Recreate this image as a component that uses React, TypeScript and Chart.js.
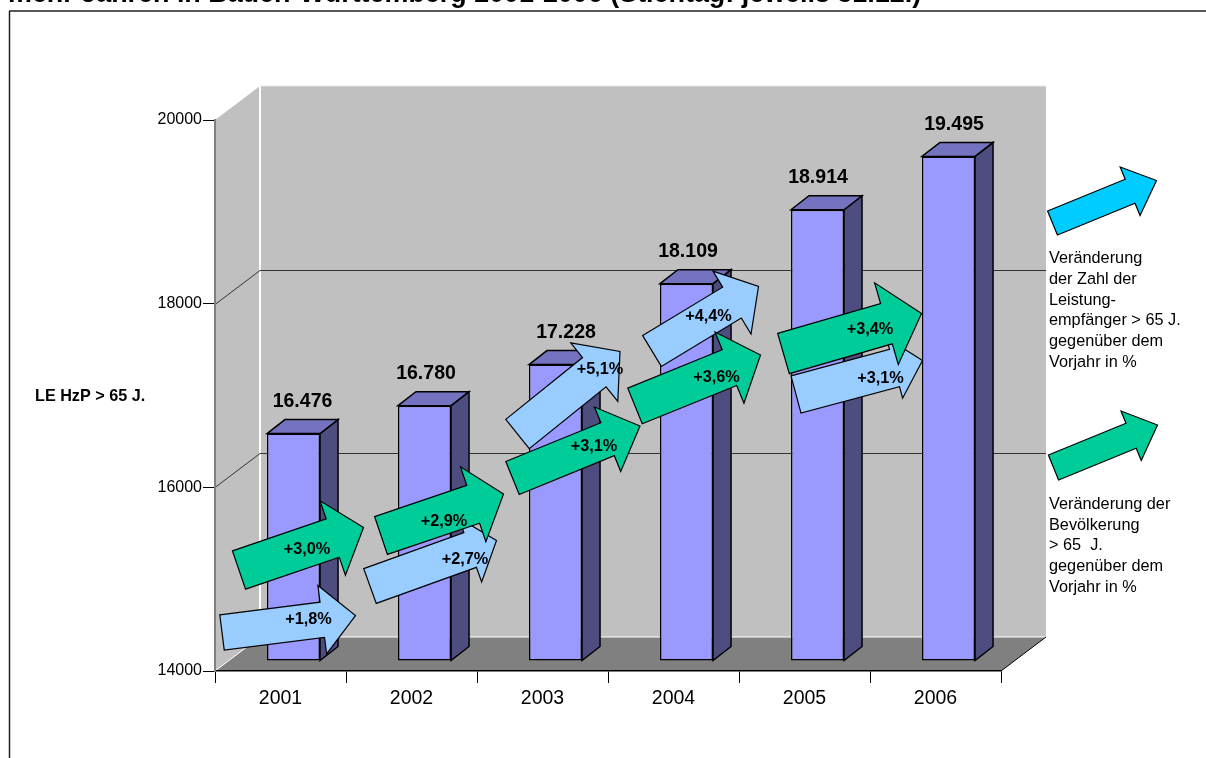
import React, { useEffect, useRef } from "react";
import { Chart, registerables } from "chart.js";

Chart.register(...registerables);

// Recipients of care assistance aged over 65, counted on 31.12. of each year
const years = ["2001", "2002", "2003", "2004", "2005", "2006"];
const recipients = [16476, 16780, 17228, 18109, 18914, 19495];
const yAxisMin = 14000;
const yAxisMax = 20000;
const yAxisStep = 2000;

// Year-on-year changes in percent
const recipientChange = [1.8, 2.7, 5.1, 4.4, 3.1];
const populationChange = [3.0, 2.9, 3.1, 3.6, 3.4];

const titleText = "mehr Jahren in Baden-Württemberg 2001-2006 (Stichtag: jeweils 31.12.)";
const yAxisCaption = "LE HzP > 65 J.";
const recipientLegend = ["Veränderung", "der Zahl der", "Leistung-", "empfänger > 65 J.", "gegenüber dem", "Vorjahr in %"];
const populationLegend = ["Veränderung der", "Bevölkerung", "> 65  J.", "gegenüber dem", "Vorjahr in %"];

const FONT = '"Liberation Sans", Arial, sans-serif';
const WALL = "#C0C0C0";
const FLOOR = "#808080";
const BAR_FRONT = "#9999FF";
const BAR_TOP = "#7373BF";
const BAR_SIDE = "#4D4D80";
const GREEN = "#00CC99";
const LIGHT_BLUE = "#99CCFF";
const CYAN = "#00CCFF";

// Projection of the 3D look: wall depth, bar depth and the bars' inset from the axis plane
const WALL_DX = 45;
const WALL_DY = -34;
const BAR_DX = 18;
const BAR_DY = -14;
const INSET_X = 13;
const INSET_Y = -10;

// Hand-placed horizontal shift of each value label relative to its bar
const valueLabelShift = [9, 1.5, 10.5, 1.5, 0.5, 5.5];

type Arrow = { tail: number[]; tip: number[]; shaft: number; head: number; headLen: number; text: number[] };

// Overlay arrows: tail centre, tip, shaft width, head width, head length, label centre
const recipientArrows: Arrow[] = [
  { tail: [222, 632.5], tip: [355.5, 615.5], shaft: 35.5, head: 69, headLen: 33.5, text: [308.5, 620] },
  { tail: [370, 586], tip: [496.5, 540.5], shaft: 37, head: 68, headLen: 28, text: [465, 560] },
  { tail: [517.5, 434], tip: [620, 351.5], shaft: 37.5, head: 75, headLen: 33, text: [600, 370] },
  { tail: [652, 351], tip: [758.5, 286.5], shaft: 36, head: 73.5, headLen: 31, text: [708.5, 317] },
  { tail: [796, 394.5], tip: [922.5, 360.5], shaft: 38.5, head: 62.5, headLen: 29, text: [880.5, 379] },
];
const populationArrows: Arrow[] = [
  { tail: [239, 570], tip: [363.5, 527.5], shaft: 40.5, head: 78.5, headLen: 32.5, text: [307, 550] },
  { tail: [381, 535.5], tip: [503.5, 494], shaft: 40, head: 79, headLen: 32, text: [444, 521.5] },
  { tail: [512.5, 478], tip: [640, 426], shaft: 35.5, head: 69.5, headLen: 35, text: [594, 446.5] },
  { tail: [635, 406], tip: [760.5, 355], shaft: 38.5, head: 77, headLen: 33.5, text: [716.5, 378] },
  { tail: [783.5, 353.5], tip: [921.5, 313.5], shaft: 42, head: 85, headLen: 36.5, text: [870, 330] },
];
const legendArrows = [
  { tail: [1052.5, 223], tip: [1156.5, 180.5], shaft: 26, head: 52.5, headLen: 28.5, color: CYAN },
  { tail: [1053.5, 467.5], tip: [1157.5, 425], shaft: 27, head: 53.5, headLen: 28.5, color: GREEN },
];

function polygon(ctx: CanvasRenderingContext2D, pts: number[][], fill: string, stroke?: string, lw = 1) {
  ctx.beginPath();
  pts.forEach((p, i) => (i ? ctx.lineTo(p[0], p[1]) : ctx.moveTo(p[0], p[1])));
  ctx.closePath();
  ctx.fillStyle = fill;
  ctx.fill();
  if (stroke) {
    ctx.strokeStyle = stroke;
    ctx.lineWidth = lw;
    ctx.stroke();
  }
}

function line(ctx: CanvasRenderingContext2D, x0: number, y0: number, x1: number, y1: number, color: string, lw = 1) {
  ctx.beginPath();
  ctx.moveTo(x0, y0);
  ctx.lineTo(x1, y1);
  ctx.strokeStyle = color;
  ctx.lineWidth = lw;
  ctx.stroke();
}

function drawArrow(ctx: CanvasRenderingContext2D, a: { tail: number[]; tip: number[]; shaft: number; head: number; headLen: number }, color: string) {
  const [tx, ty] = a.tail;
  const [px, py] = a.tip;
  const len = Math.hypot(px - tx, py - ty);
  const ux = (px - tx) / len;
  const uy = (py - ty) / len;
  const nx = -uy;
  const ny = ux;
  const bx = px - ux * a.headLen;
  const by = py - uy * a.headLen;
  const s = a.shaft / 2;
  const h = a.head / 2;
  polygon(
    ctx,
    [
      [tx - nx * s, ty - ny * s],
      [bx - nx * s, by - ny * s],
      [bx - nx * h, by - ny * h],
      [px, py],
      [bx + nx * h, by + ny * h],
      [bx + nx * s, by + ny * s],
      [tx + nx * s, ty + ny * s],
    ],
    color,
    "#000",
    1.2
  );
}

const percentLabel = (v: number) => "+" + v.toFixed(1).replace(".", ",") + "%";
const thousands = (v: number) => String(v).replace(/(\d)(\d{3})$/, "$1.$2");

const perspective = {
  id: "perspective",
  // Walls and floor sit behind the axes
  beforeDraw(chart: any) {
    const { ctx, chartArea: a, scales } = chart;
    const y = scales.y;
    const backL = a.left + WALL_DX;
    const backR = a.right + WALL_DX;
    const backT = a.top + WALL_DY;
    const backB = a.bottom + WALL_DY;
    ctx.save();
    polygon(ctx, [[a.left, a.top], [backL, backT], [backL, backB], [a.left, a.bottom]], WALL);
    polygon(ctx, [[backL, backT], [backR, backT], [backR, backB], [backL, backB]], WALL);
    polygon(ctx, [[a.left, a.bottom], [backL, backB], [backR, backB], [a.right, a.bottom]], FLOOR);
    line(ctx, backL, backT, backL, backB, "#FFFFFF", 2);
    line(ctx, backL, backB, backR, backB, "#FFFFFF", 1);
    line(ctx, backL, backT, backR, backT, "#E6E6E6", 1);
    line(ctx, a.left, a.bottom, backL, backB, "#FFFFFF", 1);
    line(ctx, a.right, a.bottom, backR, backB, "#000000", 1);
    y.ticks.forEach((t: any) => {
      if (t.value === yAxisMin || t.value === yAxisMax) return;
      const py = Math.round(y.getPixelForValue(t.value)) + 0.5;
      line(ctx, a.left, py, backL, py + WALL_DY, "#333333", 1);
      line(ctx, backL, py + WALL_DY, backR, py + WALL_DY, "#333333", 1);
    });
    // Outer frame around the plot
    line(ctx, 9.5, 758, 9.5, 11, "#222222", 1.5);
    line(ctx, 9, 11, 1206, 11, "#222222", 1.5);
    ctx.restore();
  },
  // Each bar gets its side and top faces, then the library's own bar is shifted into depth
  beforeDatasetDraw(chart: any, args: any) {
    const { ctx } = chart;
    const meta = chart.getDatasetMeta(args.index);
    ctx.save();
    meta.data.forEach((bar: any) => {
      const x0 = bar.x - bar.width / 2 + INSET_X;
      const x1 = bar.x + bar.width / 2 + INSET_X;
      const top = bar.y + INSET_Y;
      const bot = bar.base + INSET_Y;
      polygon(ctx, [[x1, top], [x1 + BAR_DX, top + BAR_DY], [x1 + BAR_DX, bot + BAR_DY], [x1, bot]], BAR_SIDE, "#000", 1.5);
      polygon(ctx, [[x0, top], [x0 + BAR_DX, top + BAR_DY], [x1 + BAR_DX, top + BAR_DY], [x1, top]], BAR_TOP, "#000", 1.5);
    });
    ctx.translate(INSET_X, INSET_Y);
  },
  afterDatasetDraw(chart: any) {
    chart.ctx.restore();
  },
  afterDatasetsDraw(chart: any) {
    const { ctx } = chart;
    const meta = chart.getDatasetMeta(0);
    ctx.save();
    ctx.textAlign = "center";
    ctx.textBaseline = "middle";
    ctx.fillStyle = "#000";

    // Value labels over the bars
    ctx.font = `bold 19.5px ${FONT}`;
    meta.data.forEach((bar: any, i: number) => {
      ctx.fillText(thousands(recipients[i]), bar.x + INSET_X + valueLabelShift[i], bar.y + INSET_Y - 32);
    });

    // Change arrows: the population arrows lie on top of the recipient arrows
    recipientArrows.forEach((a) => drawArrow(ctx, a, LIGHT_BLUE));
    populationArrows.forEach((a) => drawArrow(ctx, a, GREEN));
    legendArrows.forEach((a) => drawArrow(ctx, a, a.color));

    ctx.fillStyle = "#000";
    ctx.font = `bold 16.3px ${FONT}`;
    recipientArrows.forEach((a, i) => ctx.fillText(percentLabel(recipientChange[i]), a.text[0], a.text[1]));
    populationArrows.forEach((a, i) => ctx.fillText(percentLabel(populationChange[i]), a.text[0], a.text[1]));

    // Side captions
    ctx.textAlign = "left";
    ctx.font = `bold 16.2px ${FONT}`;
    ctx.fillText(yAxisCaption, 35, 397);
    ctx.font = `16.3px ${FONT}`;
    recipientLegend.forEach((t, i) => ctx.fillText(t, 1049, 258.5 + i * 20.8));
    populationLegend.forEach((t, i) => ctx.fillText(t, 1049, 504.5 + i * 20.7));

    // Heading, cut by the upper page edge
    ctx.font = `bold 26.9px ${FONT}`;
    ctx.textBaseline = "alphabetic";
    ctx.fillText(titleText, 8, 1.5);
    ctx.restore();
  },
};

export default function App() {
  const ref = useRef<HTMLCanvasElement>(null);
  useEffect(() => {
    const chart = new Chart(ref.current!, {
      type: "bar",
      data: {
        labels: years,
        datasets: [
          {
            data: recipients,
            base: yAxisMin,
            backgroundColor: BAR_FRONT,
            borderColor: "#000000",
            borderWidth: 1.5,
            borderSkipped: false,
            categoryPercentage: 1,
            barPercentage: 0.405,
            clip: false,
          } as any,
        ],
      },
      options: {
        responsive: false,
        animation: false,
        layout: { padding: { top: 120, right: 205, left: 0, bottom: 0 } },
        plugins: { legend: { display: false }, title: { display: false }, tooltip: { enabled: false } },
        scales: {
          x: {
            afterFit: (s: any) => { s.height = 87; },
            border: { display: true, color: "#000000", width: 1.5 },
            grid: { drawOnChartArea: false, drawTicks: true, tickLength: 12, color: "#000000", offset: true },
            ticks: { color: "#000", font: { family: FONT, size: 19.5 }, padding: 4, maxRotation: 0 },
          },
          y: {
            min: yAxisMin,
            max: yAxisMax,
            afterFit: (s: any) => { s.width = 215; },
            border: { display: true, color: "#808080", width: 2 },
            grid: { drawOnChartArea: false, drawTicks: true, tickLength: 12, color: "#000000" },
            ticks: { stepSize: yAxisStep, color: "#000", font: { family: FONT, size: 16 }, padding: 1, callback: (v: any) => String(v) },
          },
        },
      },
      plugins: [perspective],
    } as any);
    return () => chart.destroy();
  }, []);
  return (
    <div style={{ position: "absolute", left: 0, top: 0, width: 1206, height: 758, overflow: "hidden", background: "#fff" }}>
      <canvas ref={ref} width={1206} height={758} style={{ display: "block" }} />
    </div>
  );
}
